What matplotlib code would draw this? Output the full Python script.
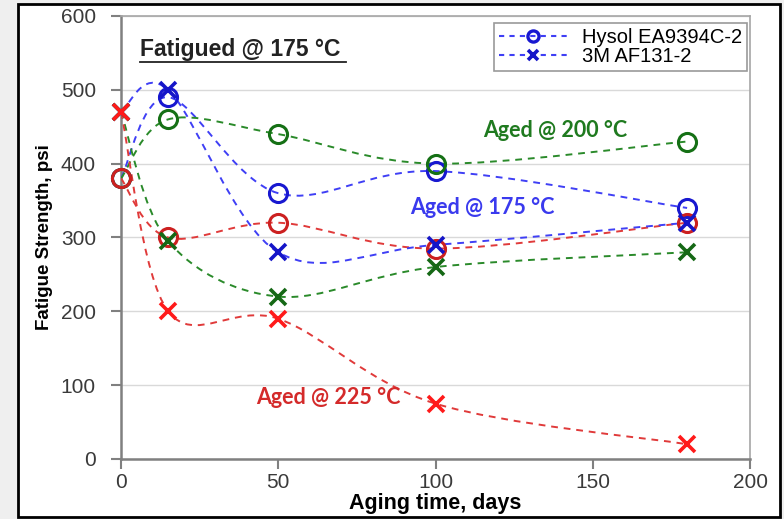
import numpy as np
import matplotlib
matplotlib.use("Agg")
import matplotlib.pyplot as plt
from matplotlib.path import Path
from matplotlib.patches import PathPatch, Rectangle
from matplotlib.lines import Line2D

plt.rcParams["font.family"] = ["Liberation Sans", "DejaVu Sans"]

days = [0, 15, 50, 100, 180]

# Hysol EA9394C-2 (circles)
hysol_175 = [380, 490, 360, 390, 340]
hysol_200 = [380, 460, 440, 400, 430]
hysol_225 = [380, 300, 320, 285, 320]

# 3M AF131-2 (crosses)
af131_175 = [470, 500, 280, 290, 320]
af131_200 = [470, 295, 220, 260, 280]
af131_225 = [470, 200, 190, 75, 20]

line_colors = {"175": "#3f3ff5", "200": "#2a8a2a", "225": "#e03a3a"}
circle_colors = {"175": "#1818d0", "200": "#157015", "225": "#cc2020"}
cross_colors = {"175": "#1515c8", "200": "#156815", "225": "#ff1a1a"}


def smooth_path(x, y):
    # Catmull-Rom style Bezier through the points, like a spreadsheet smoothed line
    pts = np.column_stack([x, y]).astype(float)
    n = len(pts)
    verts = [pts[0]]
    codes = [Path.MOVETO]
    for i in range(n - 1):
        p0 = pts[i - 1] if i > 0 else pts[i]
        p1 = pts[i]
        p2 = pts[i + 1]
        p3 = pts[i + 2] if i + 2 < n else pts[i + 1]
        c1 = p1 + (p2 - p0) / 6.0
        c2 = p2 - (p3 - p1) / 6.0
        verts += [c1, c2, p2]
        codes += [Path.CURVE4] * 3
    return Path(verts, codes)


fig = plt.figure(figsize=(7.84, 5.19), dpi=100)
fig.patch.set_facecolor("#efefef")
fig.patches.append(Rectangle((18 / 784, 2 / 519), 762 / 784, 513 / 519,
                             transform=fig.transFigure, facecolor="white",
                             edgecolor="black", linewidth=2.0, zorder=-1))

ax = fig.add_axes([121 / 784, 1 - 459 / 519, 629 / 784, 443 / 519])
ax.set_zorder(1)
ax.set_facecolor("white")
ax.set_xlim(0, 200)
ax.set_ylim(0, 600)
ax.set_xticks([0, 50, 100, 150, 200])
ax.set_yticks([0, 100, 200, 300, 400, 500, 600])
ax.yaxis.grid(True, color="#d9d9d9", linewidth=1.0)
ax.set_axisbelow(True)
for side in ["left", "bottom"]:
    ax.spines[side].set_color("#808080")
    ax.spines[side].set_linewidth(1.8)
for side in ["top", "right"]:
    ax.spines[side].set_color("#a6a6a6")
    ax.spines[side].set_linewidth(1.2)
ax.tick_params(axis="both", direction="out", length=7, width=1.5, color="#808080",
               labelsize=15, labelcolor="#3a3a3a")
ax.tick_params(axis="x", pad=3)
ax.tick_params(axis="y", pad=11)

series = [
    (hysol_175, "175", "o"), (hysol_200, "200", "o"), (hysol_225, "225", "o"),
    (af131_175, "175", "x"), (af131_200, "200", "x"), (af131_225, "225", "x"),
]
for vals, temp, mk in series:
    patch = PathPatch(smooth_path(days, vals), facecolor="none",
                      edgecolor=line_colors[temp], linewidth=1.4,
                      linestyle=(0, (3.5, 3)), zorder=3)
    ax.add_patch(patch)
    if mk == "o":
        ax.plot(days, vals, "o", markersize=13, markerfacecolor="none",
                markeredgecolor=circle_colors[temp], markeredgewidth=2.2, zorder=4,
                clip_on=False)
    else:
        ax.plot(days, vals, "x", markersize=11, markeredgecolor=cross_colors[temp],
                markeredgewidth=2.6, zorder=5, clip_on=False)

ax.set_xlabel("Aging time, days", fontsize=15.5, fontweight="bold", labelpad=1)
ax.set_ylabel("Fatigue Strength, psi", fontsize=13.5, fontweight="bold", labelpad=6)

ax.text(0.03, 0.925, "Fatigued @ 175 °C", transform=ax.transAxes, fontsize=16.5,
        fontweight="bold", color="#222222", va="center", ha="left")
ax.add_line(Line2D([0.03, 0.358], [0.897, 0.897], transform=ax.transAxes,
                   color="#222222", linewidth=1.3))

ax.text(138, 445, "Aged @ 200 °C", color="#1f7a1f", fontsize=15.5, fontweight="bold",
        ha="center", va="center", family="Lato")
ax.text(115, 341, "Aged @ 175 °C", color="#3a3aee", fontsize=15.5, fontweight="bold",
        ha="center", va="center", family="Lato")
ax.text(66, 83, "Aged @ 225 °C", color="#d42a2a", fontsize=15.5, fontweight="bold",
        ha="center", va="center", family="Lato")

handles = [
    Line2D([], [], color="#3f3ff5", linestyle=(0, (2.5, 2.5)), linewidth=1.5,
           marker="o", markersize=8, markerfacecolor="none",
           markeredgecolor="#1818d0", markeredgewidth=2.4),
    Line2D([], [], color="#3f3ff5", linestyle=(0, (2.5, 2.5)), linewidth=1.5,
           marker="x", markersize=7, markeredgecolor="#1515c8", markeredgewidth=2.6),
]
leg = ax.legend(handles, ["Hysol EA9394C-2", "3M AF131-2"], loc="upper right",
                bbox_to_anchor=(0.995, 0.984), fontsize=14.5, frameon=True,
                fancybox=False, edgecolor="#808080", handlelength=3.4,
                handletextpad=0.7, borderpad=0.25, labelspacing=0.0,
                borderaxespad=0.0)
leg.get_frame().set_linewidth(1.2)

fig.savefig("out.png", dpi=100, facecolor=fig.get_facecolor())
